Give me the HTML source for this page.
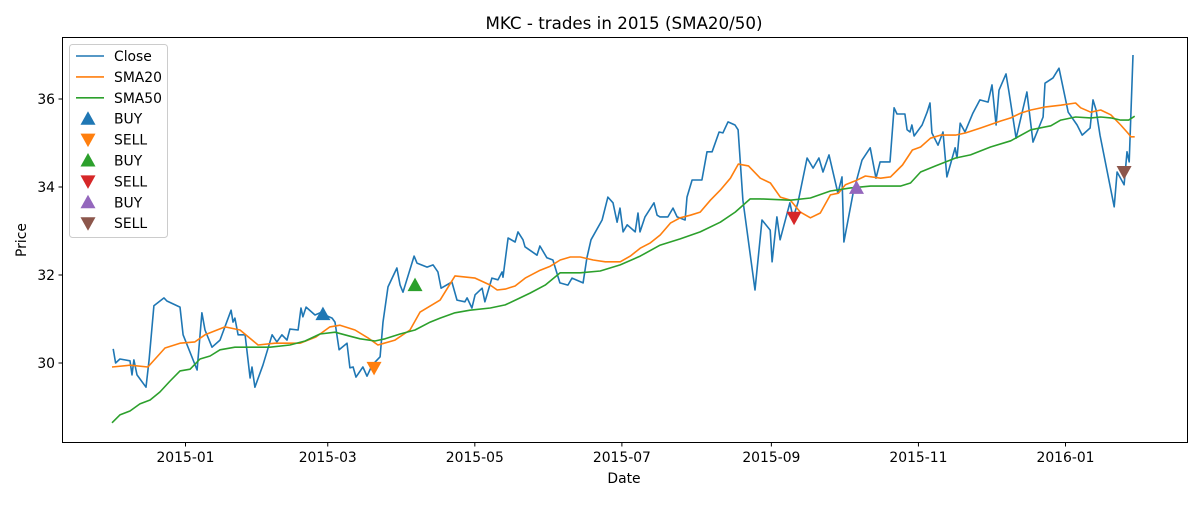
<!DOCTYPE html>
<html><head><meta charset="utf-8"><style>
body{margin:0;background:#fff;}
svg text{font-family:"DejaVu Sans","Liberation Sans",sans-serif;fill:#000;}
</style></head><body>
<svg id="chart" width="1200" height="500" xmlns="http://www.w3.org/2000/svg">
<rect width="1200" height="500" fill="#fff"/>
<text x="624" y="29" font-size="16.7" text-anchor="middle">MKC - trades in 2015 (SMA20/50)</text>
<g id="plot"></g>
<rect x="62.5" y="37.5" width="1125" height="405" fill="none" stroke="#000" stroke-width="1"/>
<text x="624" y="483" font-size="13.9" text-anchor="middle">Date</text>
<text x="26" y="240" font-size="13.9" text-anchor="middle" transform="rotate(-90 26 240)">Price</text>
<g id="legend"></g>
</svg>
<script>
// days from 2015-01-01
const closeDays=[-30,-29,-27.2,-23,-22.2,-21.4,-20.1,-16.4,-15.1,-13.1,-8.9,-7.7,-2.3,-1,4.8,6.8,8.1,11,14.3,18.9,19.7,20.5,21.8,24.7,26.8,27.6,28.8,32.1,35.9,37.9,40,42.1,43.3,46.7,47.9,48.7,50,53.7,55.8,60.8,62,63.7,67,68.2,69.5,70.7,73.6,75.3,77.4,80.7,81.9,84,87.7,89,90.2,94.8,96,100.2,102.7,104.7,106,110.5,112.6,115.9,116.8,118.8,120.1,123,124.2,127.1,129.6,131.3,131.7,133.8,136.7,137.9,140,140.8,145.8,147,149.9,152.4,155.3,158.6,160.3,164.9,166.5,168.2,172.8,175.2,177.3,179,180.2,181.5,183.2,186.5,187.7,188.5,190.6,194.3,195.6,196.8,200.1,202.2,203.9,207.2,208,210.1,214.2,216.3,218.4,221.3,222.9,225,227.9,229.2,231.2,236.2,239.1,242.5,243.3,245.3,246.6,250.7,252,254,257.8,260.3,262.7,264.4,266.9,270.6,272.3,273.1,276.9,280.6,284,286.4,288.1,292.2,293.9,295.1,298.4,299.3,300.5,301.3,302.2,305.5,307.6,308.8,309.6,312.1,314.2,315.8,319.2,320,321.3,323.3,326.6,329.5,332.9,334.5,336.2,337.4,340.3,341.6,344.5,349,351.5,355.7,356.5,359.8,362.3,366.1,369.8,371.9,375.2,376.4,377.7,379.3,385.2,386.4,389.3,390.5,391.4,393];
const closeVals=[30.32,30.0,30.09,30.05,29.73,30.07,29.73,29.45,30.07,31.3,31.48,31.41,31.27,30.64,29.84,31.14,30.75,30.36,30.52,31.2,30.93,31.02,30.64,30.64,29.66,29.91,29.45,29.95,30.64,30.48,30.64,30.52,30.77,30.75,31.25,31.05,31.27,31.09,31.14,31.02,30.93,30.3,30.45,29.89,29.91,29.68,29.91,29.7,29.95,30.14,30.93,31.73,32.16,31.77,31.61,32.43,32.27,32.18,32.23,32.07,31.7,31.84,31.43,31.39,31.48,31.25,31.55,31.7,31.39,31.93,31.89,32.07,31.95,32.84,32.75,32.98,32.8,32.64,32.45,32.66,32.39,32.34,31.82,31.77,31.93,31.82,32.39,32.8,33.25,33.77,33.64,33.2,33.52,32.98,33.14,32.98,33.41,32.98,33.32,33.64,33.36,33.32,33.32,33.52,33.32,33.25,33.77,34.16,34.16,34.8,34.8,35.25,35.23,35.48,35.41,35.3,33.7,31.66,33.25,33.02,32.3,33.32,32.8,33.64,33.3,33.64,34.66,34.43,34.66,34.34,34.73,33.86,34.23,32.75,33.86,34.61,34.89,34.2,34.57,34.57,35.8,35.66,35.66,35.3,35.25,35.41,35.16,35.41,35.7,35.91,35.23,34.95,35.25,34.23,34.89,34.66,35.45,35.25,35.68,35.98,35.93,36.32,35.41,36.2,36.57,36.14,35.11,36.16,35.02,35.59,36.36,36.48,36.7,35.7,35.41,35.18,35.34,35.98,35.75,35.18,33.55,34.34,34.05,34.8,34.57,37.0];
const sma20Days=[-30.5,-23,-15.6,-8.5,-2.3,3.9,8.1,16.4,22.6,30.1,37.1,47.5,54.1,59.9,64.1,70.3,75.7,79.8,86.9,93.1,97.3,105.6,111.8,120.1,126.4,129.3,132.6,136.7,140.9,147.1,151.3,155.4,159.6,163.7,169.1,174.1,180.3,184.5,188.6,192.8,196.9,201.1,205.2,209.4,213.5,217.7,221.8,226,229.3,233.5,238.4,242.6,246.7,250.9,255,259.2,263.3,267.5,270.8,273.7,277.9,282,288.3,292.4,297.4,301.5,304.9,309,313.2,319.4,323.6,329.8,338.1,342.3,346.4,350.6,356.8,363,369.2,371.3,375.5,379.6,383.8,387.9,390.8,392.1,393.7];
const sma20Vals=[29.91,29.95,29.91,30.34,30.45,30.48,30.64,30.82,30.75,30.41,30.45,30.45,30.59,30.82,30.86,30.75,30.57,30.41,30.52,30.75,31.16,31.43,31.98,31.93,31.77,31.66,31.68,31.75,31.93,32.11,32.2,32.34,32.41,32.41,32.34,32.3,32.3,32.43,32.61,32.73,32.91,33.18,33.3,33.36,33.43,33.7,33.93,34.2,34.52,34.48,34.2,34.09,33.77,33.7,33.43,33.3,33.41,33.82,33.86,34.05,34.14,34.25,34.2,34.23,34.5,34.84,34.91,35.11,35.18,35.18,35.23,35.34,35.5,35.57,35.68,35.75,35.82,35.86,35.91,35.8,35.7,35.75,35.64,35.41,35.23,35.14,35.14];
const sma50Days=[-30.5,-27.2,-23,-18.9,-14.7,-10.6,-6.4,-2.3,1.9,6,10.2,14.3,20.5,26.8,35,43.3,49.6,55.8,62,68.2,72.4,78.6,82.8,89,95.2,101.5,105.6,111.8,118,126.4,132.6,138.8,143,149.2,155.4,163.7,172,180.3,188.6,196.9,205.2,213.5,221.8,228,234.2,238.4,250.9,259.2,267.5,275.8,284.1,296.5,300.7,304.9,311.1,319.4,325.6,333.9,342.3,350.6,358.9,363,369.2,375.5,379.6,383.8,387.9,391.2,393.7];
const sma50Vals=[28.64,28.82,28.91,29.07,29.16,29.34,29.59,29.82,29.86,30.09,30.16,30.3,30.36,30.36,30.36,30.41,30.5,30.66,30.7,30.61,30.55,30.5,30.55,30.66,30.75,30.93,31.02,31.14,31.2,31.25,31.32,31.48,31.59,31.77,32.05,32.05,32.09,32.23,32.43,32.68,32.82,32.98,33.2,33.43,33.73,33.73,33.7,33.75,33.91,33.98,34.02,34.02,34.09,34.34,34.48,34.66,34.73,34.91,35.05,35.3,35.39,35.52,35.59,35.57,35.59,35.57,35.52,35.52,35.61];
const tradeDays=[57.0,78.2,95.2,252.4,278.3,389.3];
const tradePrices=[31.11,29.89,31.77,33.30,33.98,34.34];
const tradeTypes=["BUY","SELL","BUY","SELL","BUY","SELL"];
const tradeColors=["#1f77b4","#ff7f0e","#2ca02c","#d62728","#9467bd","#8c564b"];
const xTickDays=[0,59,120,181,243,304,365];
const xTickLabels=["2015-01","2015-03","2015-05","2015-07","2015-09","2015-11","2016-01"];
const yTicks=[30,32,34,36];

const NS="http://www.w3.org/2000/svg";
const xs=d=>185.5+d*2.411;
const ys=v=>363-(v-30)*44;
const plot=document.getElementById('plot');
function mk(tag,attrs,parent){const e=document.createElementNS(NS,tag);for(const k in attrs)e.setAttribute(k,attrs[k]);parent.appendChild(e);return e;}

xTickDays.forEach((d,i)=>{
  const t=mk('line',{x1:xs(d),x2:xs(d),y1:442.5,y2:446.5,stroke:'#000'},plot);
  
  
  const l=mk('text',{x:xs(d),y:462,'font-size':13.9,'text-anchor':'middle'},plot);
  l.textContent=xTickLabels[i];
  
  
});
yTicks.forEach(v=>{
  const t=mk('line',{x1:58.5,x2:62.5,y1:ys(v),y2:ys(v),stroke:'#000'},plot);
  
  
  const l=mk('text',{x:55,y:ys(v)+5,'font-size':13.9,'text-anchor':'end'},plot);
  l.textContent=v;
  
  
});
function line(days,vals,color,name){
  const p=mk('polyline',{points:days.map((d,i)=>xs(d).toFixed(1)+','+ys(vals[i]).toFixed(1)).join(' '),fill:'none',stroke:color,'stroke-width':1.6,'stroke-linejoin':'round'},plot);
  
  
}
line(closeDays,closeVals,'#1f77b4','close-line');
line(sma20Days,sma20Vals,'#ff7f0e','sma20-line');
line(sma50Days,sma50Vals,'#2ca02c','sma50-line');
function tri(cx,cy,up,color,parent){
  const s=7.5;
  const pts=up?[[cx,cy-s],[cx-s,cy+s*0.8],[cx+s,cy+s*0.8]]:[[cx,cy+s],[cx-s,cy-s*0.8],[cx+s,cy-s*0.8]];
  return mk('polygon',{points:pts.map(p=>p.join(',')).join(' '),fill:color},parent);
}
tradeDays.forEach((d,i)=>{
  const m=tri(xs(d),ys(tradePrices[i]),tradeTypes[i]==="BUY",tradeColors[i],plot);
  
  
});
// legend
const lg=document.getElementById('legend');
const box=mk('rect',{x:69.5,y:44.5,width:98,height:193,rx:3,fill:'#fff','fill-opacity':0.8,stroke:'#ccc'},lg);


const legLabels=["Close","SMA20","SMA50"].concat(tradeTypes);
const legColors=["#1f77b4","#ff7f0e","#2ca02c"].concat(tradeColors);
legLabels.forEach((lab,i)=>{
  const y=56+i*20.9;
  let m;
  if(i<3){m=mk('line',{x1:76,x2:104,y1:y,y2:y,stroke:legColors[i],'stroke-width':1.6},lg);}
  else{m=tri(88,y,lab==="BUY",legColors[i],lg);}
  
  
  const t=mk('text',{x:114,y:y+5,'font-size':13.9},lg);
  t.textContent=lab;
  
  
});
</script>
</body></html>
